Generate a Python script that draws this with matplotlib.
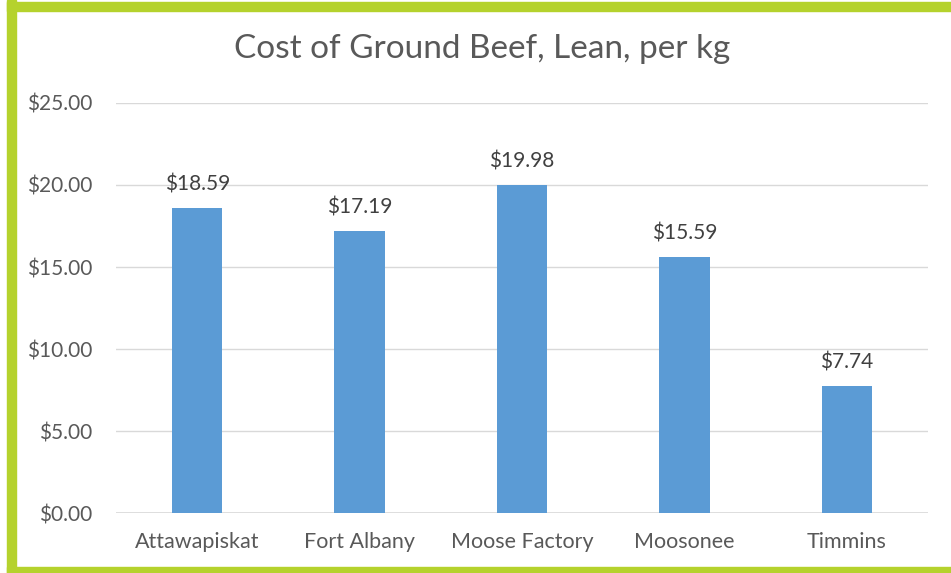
import matplotlib.pyplot as plt
from matplotlib.patches import Rectangle

communities = ["Attawapiskat", "Fort Albany", "Moose Factory", "Moosonee", "Timmins"]
prices = [18.59, 17.19, 19.98, 15.59, 7.74]
yticks = [0, 5, 10, 15, 20, 25]

plt.rcParams['font.family'] = ['Lato', 'DejaVu Sans']
W, H = 951, 573
fig = plt.figure(figsize=(W / 100, H / 100), dpi=100)

# green frame
green = "#b5d22d"
fig.patches.append(Rectangle((7 / W, 0), 9 / W, 1, transform=fig.transFigure, color=green))
fig.patches.append(Rectangle((7 / W, 1 - 11 / H), 1, 9 / H, transform=fig.transFigure, color=green))
fig.patches.append(Rectangle((7 / W, 0), 1, 6 / H, transform=fig.transFigure, color=green))

ax = fig.add_axes([116 / W, 60 / H, 812 / W, 410 / H])
x = range(len(communities))
ax.bar(x, prices, width=0.31, color="#5b9bd5", zorder=3)
ax.set_xlim(-0.5, len(communities) - 0.5)
ax.set_ylim(0, 25)
ax.set_yticks(yticks)
ax.set_yticklabels([f"${v:.2f}" for v in yticks])
ax.set_xticks(list(x))
ax.set_xticklabels(communities)
ax.tick_params(length=0, colors="#595959")
ax.tick_params(axis='x', labelsize=15.5, pad=14)
ax.tick_params(axis='y', labelsize=15, pad=17)
ax.grid(axis='y', color="#d9d9d9", linewidth=1, zorder=0)
for s in ax.spines.values():
    s.set_visible(False)
ax.axhline(0, color="#d9d9d9", linewidth=1.2, zorder=2)

for i, v in enumerate(prices):
    ax.annotate(f"${v:.2f}", (i, v), xytext=(0, 10), textcoords="offset points",
                ha="center", va="bottom", fontsize=15, color="#404040")

fig.text(482 / W, 1 - 49 / H, "Cost of Ground Beef, Lean, per kg", ha="center", va="center",
         fontsize=24, color="#595959")

fig.savefig("out.png", dpi=100)
